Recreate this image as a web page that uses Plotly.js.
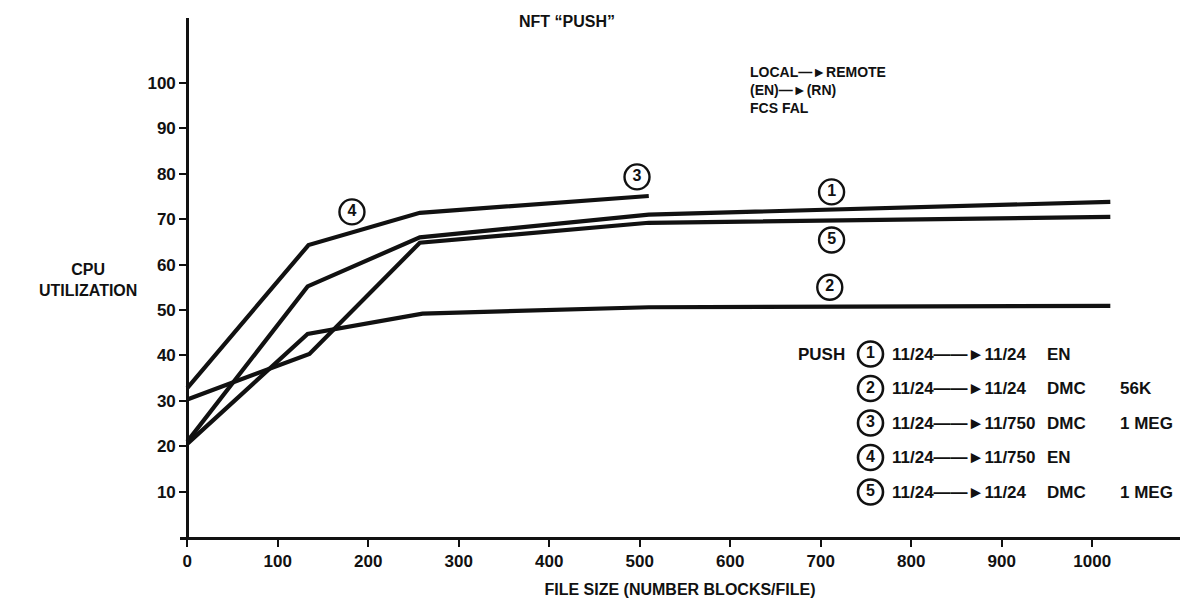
<!DOCTYPE html>
<html>
<head>
<meta charset="utf-8">
<script src="https://cdn.plot.ly/plotly-3.0.1.min.js"></script>
<style>html,body{margin:0;padding:0;background:#fff;}#chart{width:1190px;height:607px;}</style>
</head>
<body>
<div id="chart"></div>
<script>
// ---- data ----
var curve1X = [0, 133, 257, 510, 1020];
var curve1Y = [21, 55.2, 66, 71, 73.8];
var curve2X = [0, 133, 260, 510, 1020];
var curve2Y = [20.5, 44.7, 49.2, 50.6, 50.9];
var curve5X = [0, 135, 257, 510, 1020];
var curve5Y = [30.3, 40.3, 64.8, 69.2, 70.5];
var curve34X = [0, 134, 257, 510];
var curve34Y = [32.8, 64.3, 71.4, 75.1];

var labelIds = ['4', '3', '1', '5', '2'];
var labelX = [182, 497, 712, 712, 710];
var labelY = [71.6, 79.3, 76, 65.4, 55];

var legendIds = ['1', '2', '3', '4', '5'];
var legendFrom = ['11/24', '11/24', '11/24', '11/24', '11/24'];
var legendTo = ['11/24', '11/24', '11/750', '11/750', '11/24'];
var legendLink = ['EN', 'DMC', 'DMC', 'EN', 'DMC'];
var legendSpeed = ['', '56K', '1 MEG', '', '1 MEG'];
var legendY = [40.3, 32.7, 25.1, 17.5, 9.9];
var legendCircleX = 755;

var xTicks = [0, 100, 200, 300, 400, 500, 600, 700, 800, 900, 1000];
var yTicks = [10, 20, 30, 40, 50, 60, 70, 80, 90, 100];

var FONT = 'Liberation Sans, Arial, sans-serif';
var INK = '#111';

function lineTrace(x, y) {
  return {x: x, y: y, type: 'scatter', mode: 'lines', line: {color: INK, width: 4.2}, hoverinfo: 'skip', showlegend: false};
}

var traces = [
  lineTrace(curve1X, curve1Y),
  lineTrace(curve2X, curve2Y),
  lineTrace(curve5X, curve5Y),
  lineTrace(curve34X, curve34Y),
  {
    x: labelX, y: labelY, text: labelIds, type: 'scatter', mode: 'markers+text',
    marker: {symbol: 'circle-open', size: 25, color: INK, line: {width: 2.4, color: INK}},
    textposition: 'middle center', textfont: {family: FONT, size: 16, color: INK, weight: 'bold'},
    hoverinfo: 'skip', showlegend: false, cliponaxis: false
  },
  {
    x: legendY.map(function () { return legendCircleX; }), y: legendY, text: legendIds,
    type: 'scatter', mode: 'markers+text',
    marker: {symbol: 'circle-open', size: 25, color: INK, line: {width: 2.6, color: INK}},
    textposition: 'middle center', textfont: {family: FONT, size: 16, color: INK, weight: 'bold'},
    hoverinfo: 'skip', showlegend: false, cliponaxis: false
  }
];

var annotations = [];
var textFont = {family: FONT, size: 17, color: INK, weight: 'bold'};
for (var i = 0; i < legendIds.length; i++) {
  annotations.push({x: 776, y: legendY[i], xref: 'x', yref: 'y', xanchor: 'left', yanchor: 'middle',
    text: legendFrom[i] + '\u2014\u2014\u25BA' + legendTo[i], showarrow: false, font: textFont});
  annotations.push({x: 948, y: legendY[i], xref: 'x', yref: 'y', xanchor: 'left', yanchor: 'middle',
    text: legendLink[i], showarrow: false, font: textFont});
  if (legendSpeed[i]) {
    annotations.push({x: 1028, y: legendY[i], xref: 'x', yref: 'y', xanchor: 'left', yanchor: 'middle',
      text: legendSpeed[i], showarrow: false, font: textFont});
  }
}
annotations.push({x: 729, y: legendY[0], xref: 'x', yref: 'y', xanchor: 'right', yanchor: 'middle',
  text: 'PUSH', showarrow: false, font: textFont});
annotations.push({x: 567, y: 22, xref: 'paper', yref: 'paper', xanchor: 'center', yanchor: 'middle',
  text: 'NFT \u201CPUSH\u201D', showarrow: false, font: {family: FONT, size: 16, color: INK, weight: 'bold'}});
annotations.push({x: 748, y: 90, xanchor: 'left', yanchor: 'middle',
  text: 'LOCAL\u2014\u25BAREMOTE<br>(EN)\u2014\u25BA(RN)<br>FCS FAL', align: 'left', showarrow: false,
  font: {family: FONT, size: 14, color: INK, weight: 'bold'}});
annotations.push({x: 88, y: 280, xanchor: 'center', yanchor: 'middle',
  text: 'CPU<br>UTILIZATION', align: 'center', showarrow: false,
  font: {family: FONT, size: 16, color: INK, weight: 'bold'}});

// convert pixel-placed page text annotations to paper coords
var W = 1190, H = 607, M = {l: 180, r: 10, t: 18, b: 70};
annotations.forEach(function (a) {
  if (!a.xref || a.xref === 'paper') {
    a.xref = 'paper'; a.yref = 'paper';
    a.x = (a.x - M.l) / (W - M.l - M.r);
    a.y = 1 - (a.y - M.t) / (H - M.t - M.b);
  }
});

var layout = {
  width: W, height: H,
  margin: M,
  paper_bgcolor: '#fff', plot_bgcolor: '#fff',
  showlegend: false,
  font: {family: FONT, color: INK},
  xaxis: {
    range: [-8, 1097], tickvals: xTicks, ticktext: xTicks.map(String),
    showline: true, linecolor: INK, linewidth: 2.6, showgrid: false, zeroline: false,
    ticks: 'outside', ticklen: 7, tickwidth: 2, tickcolor: INK,
    tickfont: {family: FONT, size: 17, color: INK, weight: 'bold'},
    title: {text: 'FILE SIZE (NUMBER BLOCKS/FILE)', font: {family: FONT, size: 16, color: INK, weight: 'bold'}, standoff: 14}
  },
  yaxis: {
    range: [0, 114.3], tickvals: yTicks, ticktext: yTicks.map(String),
    anchor: 'free', position: 0.00724,
    showline: true, linecolor: INK, linewidth: 2.6, showgrid: false, zeroline: false,
    ticks: 'outside', ticklen: 7, tickwidth: 2, tickcolor: INK,
    tickfont: {family: FONT, size: 17, color: INK, weight: 'bold'}
  },
  annotations: annotations
};

Plotly.newPlot('chart', traces, layout, {staticPlot: true, displayModeBar: false});
</script>
</body>
</html>
